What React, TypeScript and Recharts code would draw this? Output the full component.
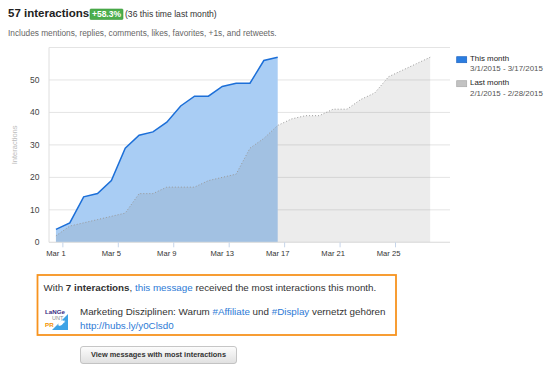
import React from 'react';
import { ComposedChart, Area, XAxis, YAxis, CartesianGrid } from 'recharts';

// ---- data ----
const dayIndex = [0, 1, 2, 3, 4, 5, 6, 7, 8, 9, 10, 11, 12, 13, 14, 15, 16, 17, 18, 19, 20, 21, 22, 23, 24, 25, 26, 27];
const thisMonth = [4, 6, 14, 15, 19, 29, 33, 34, 37, 42, 45, 45, 48, 49, 49, 56, 57];
const lastMonth = [2, 5, 6, 7, 8, 9, 15, 15, 17, 17, 17, 19, 20, 21, 29, 32, 36, 38, 39, 39, 41, 41, 44, 46, 51, 53, 55, 57];
const xTickDays = [0, 4, 8, 12, 16, 20, 24];
const xTickLabels = ['Mar 1', 'Mar 5', 'Mar 9', 'Mar 13', 'Mar 17', 'Mar 21', 'Mar 25'];
const yTicks = [0, 10, 20, 30, 40, 50];
const seriesNames = ['This month', 'Last month'];
const seriesRanges = ['3/1/2015 - 3/17/2015', '2/1/2015 - 2/28/2015'];

const data = dayIndex.map((d, i) => ({ day: d, thisMonth: thisMonth[i], lastMonth: lastMonth[i] }));

// ---- layout ----
const FONT = '"Liberation Sans", Arial, Helvetica, sans-serif';
const CHART_W = 549;
const CHART_H = 265;
const MARGIN = { top: 47.5, right: 99, bottom: 0, left: 0 };
const Y_AXIS_W = 49;
const X_AXIS_H = 22.7;
const X_MIN = -0.5;
const X_MAX = 28.43;
const PLOT_W = CHART_W - MARGIN.left - MARGIN.right - Y_AXIS_W;
const HALF_DAY = PLOT_W / (X_MAX - X_MIN) / 2;

const XTick = (props: any) => {
  const { x, y, payload } = props;
  const idx = xTickDays.indexOf(Math.round(payload.value - 0.5));
  return (
    <text x={x - HALF_DAY} y={y + 6} textAnchor="middle" fontSize={7.6} fill="#333" fontFamily={FONT}>
      {xTickLabels[idx]}
    </text>
  );
};

const YLabel = (props: any) => {
  const vb = props.viewBox || {};
  const cx = (vb.x || 0) + 15;
  const cy = (vb.y || 0) + (vb.height || 0) / 2;
  return (
    <text x={cx} y={cy} transform={`rotate(-90 ${cx} ${cy})`} textAnchor="middle" dominantBaseline="central" fontSize={7.5} fill="#bbb" fontFamily={FONT}>
      Interactions
    </text>
  );
};

const Logo = () => (
  <g>
    <text x={45} y={313.5} fontSize={6.2} fontWeight="bold" fill="#3b2c83" fontFamily={FONT}>LaNGe</text>
    <text x={52} y={319.5} fontSize={5.5} fill="#8a8a8a" fontFamily={FONT}>UNT</text>
    <polygon points="68,314 68,330 52,330" fill="#3ea3e6" />
    <text x={45} y={326.5} fontSize={6.2} fontWeight="bold" fill="#f39200" fontFamily={FONT}>PR</text>
    <path d="M58,325.5 q3,1.5 6,-3 q1,0 1.5,-1 q-0.8,0.3 -1.3,0.1 q0.8,-0.6 0.9,-1.3 q-0.7,0.5 -1.4,0.5 q-1.5,-1.3 -3,0.4 q-2,0 -3.3,-1.4 q-0.5,1.7 1,2.6 q-0.6,0 -1,-0.3 q0.1,1.4 1.6,1.8 q-0.6,0.2 -1,0 q0.5,1.2 1.8,1.2 q-1.2,0.9 -2.6,0.7 z" fill="#fff" />
  </g>
);

export default function App() {
  return (
    <div style={{ position: 'absolute', left: 0, top: 0, width: 549, height: 383, background: '#fff', overflow: 'hidden', fontFamily: FONT }}>
      <div style={{ position: 'absolute', left: 0, top: 0 }}>
        <ComposedChart width={CHART_W} height={CHART_H} data={data} margin={MARGIN} style={{ fontFamily: FONT }}>
          <CartesianGrid vertical={false} stroke="#e4e4e4" />
          <XAxis
            dataKey="day"
            type="number"
            domain={[X_MIN, X_MAX]}
            ticks={xTickDays.map((d) => d + 0.5)}
            height={X_AXIS_H}
            tickSize={5}
            tickMargin={3}
            tickLine={{ stroke: '#c6d5ea' }}
            axisLine={{ stroke: '#e0e0e0' }}
            tick={<XTick />}
            interval={0}
          />
          <YAxis
            type="number"
            domain={[0, 60]}
            ticks={yTicks}
            width={Y_AXIS_W}
            tickLine={false}
            tickSize={0}
            tickMargin={9.5}
            axisLine={{ stroke: '#dedede' }}
            tick={{ fontSize: 8.5, fill: '#444', fontFamily: FONT }}
            interval={0}
            label={<YLabel />}
          />
          <Area
            type="linear"
            dataKey="thisMonth"
            stroke="#1c6fd8"
            strokeWidth={1.5}
            fill="#a9cdf4"
            fillOpacity={1}
            dot={false}
            activeDot={false}
            isAnimationActive={false}
          />
          <Area
            type="linear"
            dataKey="lastMonth"
            stroke="#9a9a9a"
            strokeWidth={1}
            strokeDasharray="1 2"
            fill="#808080"
            fillOpacity={0.15}
            dot={false}
            activeDot={false}
            isAnimationActive={false}
          />
        </ComposedChart>
      </div>
      <svg width={549} height={383} style={{ position: 'absolute', left: 0, top: 0, pointerEvents: 'none' }} fontFamily={FONT}>
        <defs>
          <linearGradient id="btnGrad" x1="0" y1="0" x2="0" y2="1">
            <stop offset="0" stopColor="#fdfdfd" />
            <stop offset="1" stopColor="#e0e0e0" />
          </linearGradient>
        </defs>
        {/* header */}
        <text x={8} y={16.7} fontSize={11.5} fontWeight="bold" fill="#222">57 interactions</text>
        <rect x={90} y={9} width={33} height={10.5} rx={1} fill="#4cae4c" stroke="#3d9a3d" strokeWidth={0.6} />
        <text x={106.5} y={17.2} fontSize={8.5} fontWeight="bold" fill="#fff" textAnchor="middle">+58.3%</text>
        <text x={125} y={17.2} fontSize={8.6} fill="#333">(36 this time last month)</text>
        <text x={8} y={35.5} fontSize={8.3} fill="#666">Includes mentions, replies, comments, likes, favorites, +1s, and retweets.</text>

        {/* legend */}
        <rect x={456.7} y={56.7} width={10} height={6} fill="#2b7de0" stroke="#1c63c2" strokeWidth={0.7} />
        <text x={470} y={61} fontSize={7.9} fill="#222">{seriesNames[0]}</text>
        <text x={470} y={71} fontSize={7.9} fill="#555">{seriesRanges[0]}</text>
        <rect x={456.7} y={80.7} width={10} height={6} fill="#c2c2c2" stroke="#a9a9a9" strokeWidth={0.7} />
        <text x={470} y={85} fontSize={7.9} fill="#222">{seriesNames[1]}</text>
        <text x={470} y={95.5} fontSize={7.9} fill="#555">{seriesRanges[1]}</text>

        {/* highlight box */}
        <rect x={37.5} y={275} width={358.5} height={60} fill="none" stroke="#f7931e" strokeWidth={1.8} />
        <text x={43.5} y={291} fontSize={9.8} fill="#333">
          With <tspan fontWeight="bold">7 interactions</tspan>, <tspan fill="#2d7ad6">this message</tspan> received the most interactions this month.
        </text>
        <Logo />
        <text x={80} y={315} fontSize={9.8} fill="#333">
          Marketing Disziplinen: Warum <tspan fill="#2d7ad6">#Affiliate</tspan> und <tspan fill="#2d7ad6">#Display</tspan> vernetzt gehören
        </text>
        <text x={80} y={328.5} fontSize={9.8} fill="#2d7ad6">http://hubs.ly/y0Clsd0</text>

        {/* button */}
        <rect x={80.5} y={346.5} width={156} height={17} rx={2.5} fill="url(#btnGrad)" stroke="#b8b8b8" strokeWidth={0.8} />
        <text x={158.5} y={356.8} fontSize={7.4} fontWeight="bold" fill="#333" textAnchor="middle">View messages with most interactions</text>
      </svg>
    </div>
  );
}
